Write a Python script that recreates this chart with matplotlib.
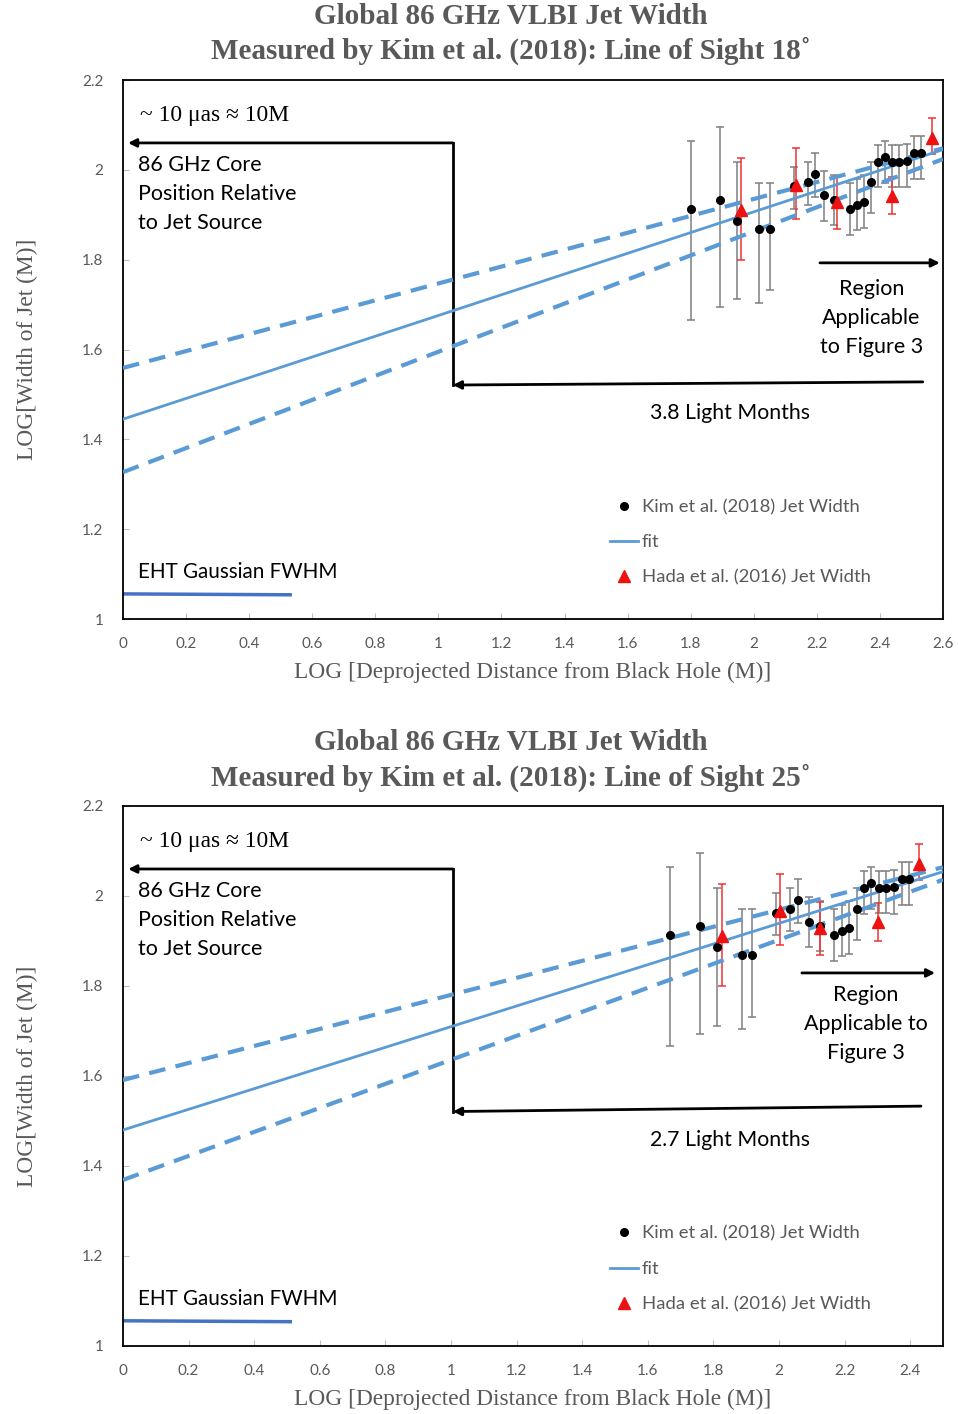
import matplotlib
matplotlib.use("Agg")
import matplotlib.pyplot as plt
import numpy as np

# ---- data ----
# Kim et al. (2018) jet widths (same widths, x depends on line of sight)
kim_y = [1.913, 1.933, 1.886, 1.868, 1.868, 1.963, 1.972, 1.990, 1.943, 1.933, 1.913,
         1.922, 1.928, 1.972, 2.018, 2.029, 2.018, 2.018, 2.020, 2.038, 2.038]
kim_hi = [2.065, 2.095, 2.018, 1.971, 1.971, 2.007, 2.017, 2.037, 1.997, 1.988, 1.970,
          1.979, 1.989, 2.017, 2.055, 2.065, 2.055, 2.055, 2.058, 2.075, 2.075]
kim_lo = [1.666, 1.694, 1.712, 1.704, 1.732, 1.913, 1.922, 1.940, 1.886, 1.878, 1.856,
          1.866, 1.870, 1.903, 1.961, 1.971, 1.962, 1.962, 1.961, 1.979, 1.979]
kim18_x = [1.800, 1.894, 1.947, 2.018, 2.053, 2.129, 2.173, 2.194, 2.224, 2.255, 2.306,
           2.328, 2.350, 2.373, 2.395, 2.417, 2.439, 2.461, 2.487, 2.509, 2.531]
kim25_x = [1.667, 1.760, 1.811, 1.886, 1.918, 1.992, 2.034, 2.057, 2.092, 2.125, 2.169,
           2.191, 2.214, 2.237, 2.260, 2.281, 2.305, 2.327, 2.351, 2.374, 2.395]

# Hada et al. (2016) jet widths
hada_y = [1.911, 1.966, 1.928, 1.942, 2.072]
hada_hi = [2.027, 2.048, 1.987, 1.985, 2.115]
hada_lo = [1.799, 1.891, 1.868, 1.901, 2.035]
hada18_x = [1.961, 2.135, 2.263, 2.439, 2.565]
hada25_x = [1.825, 2.003, 2.125, 2.302, 2.428]

# fit lines (value at x=0 and at the right edge of the axis)
fit18_x = [0, 2.6]
fit18_y = [1.445, 2.045]
up18_y = [1.559, 2.048]
lo18_y = [1.327, 2.024]
fit25_x = [0, 2.5]
fit25_y = [1.480, 2.054]
up25_y = [1.591, 2.064]
lo25_y = [1.369, 2.036]

xticks = [0, 0.2, 0.4, 0.6, 0.8, 1, 1.2, 1.4, 1.6, 1.8, 2, 2.2, 2.4, 2.6]
ytick_vals = [1, 1.2, 1.4, 1.6, 1.8, 2, 2.2]
ytick_labels = ["1", "1.2", "1.4", "1.6", "1.8", "2", "2.2"]

SANS = ["Lato", "DejaVu Sans"]
SERIF = ["Liberation Serif", "DejaVu Serif"]
GREY = "#595959"
BLUE = "#5B9BD5"
DARKBLUE = "#4472C4"


def draw_panel(ax, kim_x, hada_x, fx, fy, uy, ly, xmax, core_x, arrow_right,
               region_arrow, region_text, region_pos, months, eht_end):
    kim_err = [np.array(kim_y) - np.array(kim_lo), np.array(kim_hi) - np.array(kim_y)]
    hada_err = [np.array(hada_y) - np.array(hada_lo), np.array(hada_hi) - np.array(hada_y)]

    ax.errorbar(kim_x, kim_y, yerr=kim_err, fmt="none", ecolor="#7f7f7f",
                elinewidth=1.1, capsize=3, capthick=1.1, zorder=2)
    ax.errorbar(hada_x, hada_y, yerr=hada_err, fmt="none", ecolor="#ee3333",
                elinewidth=1.1, capsize=3, capthick=1.1, zorder=2)

    ax.plot(fx, uy, color=BLUE, lw=3, dashes=(4, 2.5), zorder=3)
    ax.plot(fx, ly, color=BLUE, lw=3, dashes=(4, 2.5), zorder=3)
    ax.plot(fx, fy, color=BLUE, lw=2, zorder=3, label="fit")

    ax.plot(kim_x, kim_y, "o", color="black", ms=5.5, zorder=4,
            label="Kim et al. (2018) Jet Width")
    ax.plot(hada_x, hada_y, "^", color="#ee1111", ms=8, zorder=4,
            label="Hada et al. (2016) Jet Width")

    ax.set_xlim(0, xmax)
    ax.set_ylim(1, 2.2)
    ax.set_xticks([t for t in xticks if t <= xmax + 1e-9])
    ax.set_xticklabels([f"{t:g}" for t in xticks if t <= xmax + 1e-9])
    ax.set_yticks(ytick_vals)
    ax.set_yticklabels(ytick_labels)
    ax.tick_params(axis="both", direction="in", length=4, color="#bfbfbf",
                   labelcolor=GREY, labelsize=11)
    ax.tick_params(axis="y", pad=14)
    ax.tick_params(axis="x", pad=13)
    for lab in ax.get_xticklabels() + ax.get_yticklabels():
        lab.set_family(SANS)
    for s in ax.spines.values():
        s.set_color("black")
        s.set_linewidth(1.3)

    ax.set_xlabel("LOG [Deprojected Distance from Black Hole (M)]", family=SERIF,
                  fontsize=16.8, color=GREY, labelpad=8)
    ax.set_ylabel("LOG[Width of Jet (M)]", family=SERIF, fontsize=16.8, color=GREY,
                  labelpad=32)

    # core position arrows
    akw = dict(arrowstyle="-|>", color="black", lw=2, mutation_scale=12,
               shrinkA=0, shrinkB=0)
    ax.annotate("", xy=(0.016, 2.060), xytext=(core_x, 2.060), arrowprops=akw)
    ax.plot([core_x, core_x], [2.060, 1.521], color="black", lw=2)
    ax.annotate("", xy=(core_x, 1.521), xytext=arrow_right, arrowprops=akw)
    ax.annotate("", xy=region_arrow[1], xytext=region_arrow[0], arrowprops=akw)

    ax.text(0.021, 0.935, "~ 10 μas ≈ 10M", transform=ax.transAxes, family=SERIF,
            fontsize=16.9, va="center", ha="left")
    ax.text(0.018, 0.861, "86 GHz Core\nPosition Relative\nto Jet Source",
            transform=ax.transAxes, family=SANS, fontsize=15.5, va="top", ha="left",
            linespacing=1.56)
    ax.text(region_pos[0], region_pos[1], region_text, transform=ax.transAxes,
            family=SANS, fontsize=15.5, va="center", ha="center", linespacing=1.55)
    ax.text(0.740, 0.382, months, transform=ax.transAxes, family=SANS, fontsize=15.3,
            va="center", ha="center")
    ax.text(0.018, 0.087, "EHT Gaussian FWHM", transform=ax.transAxes, family=SANS,
            fontsize=14.9, va="center", ha="left")
    ax.plot([0, eht_end], [1.056, 1.054], color=DARKBLUE, lw=2.5)

    handles, labels = ax.get_legend_handles_labels()
    order = [labels.index("Kim et al. (2018) Jet Width"), labels.index("fit"),
             labels.index("Hada et al. (2016) Jet Width")]
    leg = ax.legend([handles[i] for i in order], [labels[i] for i in order],
                    loc="upper left", bbox_to_anchor=(0.594, 0.223), frameon=False,
                    borderpad=0, borderaxespad=0, handlelength=1.51,
                    handletextpad=0.22, labelspacing=1.05,
                    prop={"family": SANS, "size": 13.3})
    for t in leg.get_texts():
        t.set_color(GREY)


fig = plt.figure(figsize=(9.58, 14.14), dpi=100)
ax1 = fig.add_axes([0.1284, 0.5622, 0.8559, 0.3812])
ax2 = fig.add_axes([0.1284, 0.0481, 0.8559, 0.3819])

draw_panel(ax1, kim18_x, hada18_x, fit18_x, fit18_y, up18_y, lo18_y, 2.6,
           1.046, (2.536, 1.528), ((2.21, 1.793), (2.59, 1.793)),
           "Region\nApplicable\nto Figure 3", (0.913, 0.558), "3.8 Light Months", 0.53)
draw_panel(ax2, kim25_x, hada25_x, fit25_x, fit25_y, up25_y, lo25_y, 2.5,
           1.006, (2.433, 1.533), ((2.07, 1.829), (2.476, 1.829)),
           "Region\nApplicable to\nFigure 3", (0.906, 0.596), "2.7 Light Months", 0.51)

title_kw = dict(family=SERIF, fontsize=21, fontweight="bold", color=GREY,
                ha="center", va="center", linespacing=1.3)
fig.text(0.533, 1 - 34 / 1414, "Global 86 GHz VLBI Jet Width\n"
         "Measured by Kim et al. (2018): Line of Sight 18˚", **title_kw)
fig.text(0.533, 1 - 760.5 / 1414, "Global 86 GHz VLBI Jet Width\n"
         "Measured by Kim et al. (2018): Line of Sight 25˚", **title_kw)

fig.savefig("out.png", dpi=100)
